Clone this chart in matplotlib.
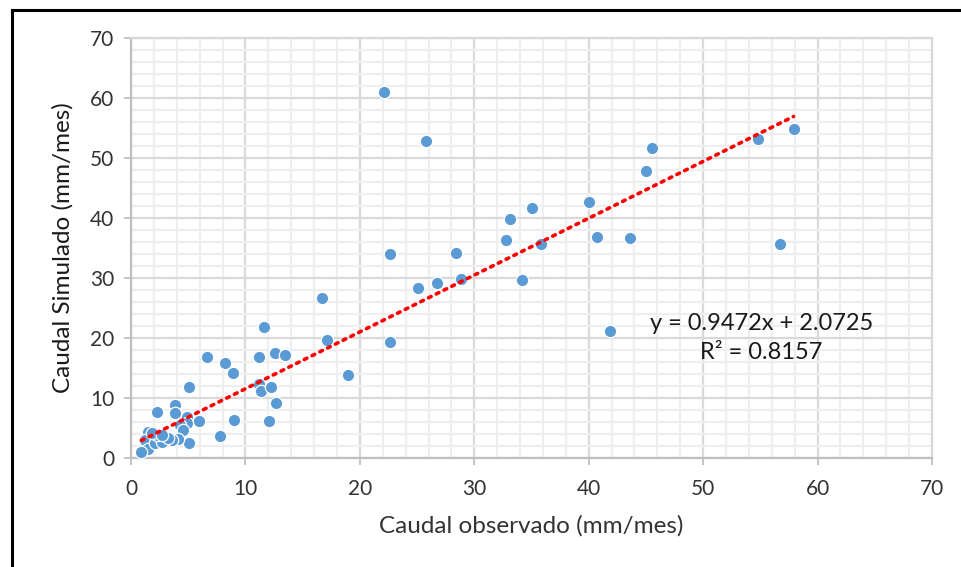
import matplotlib
matplotlib.use("Agg")
import matplotlib.pyplot as plt
from matplotlib.lines import Line2D
from matplotlib.ticker import MultipleLocator
import numpy as np

plt.rcParams['font.family'] = ['Lato', 'DejaVu Sans']

# Observed vs simulated monthly discharge (mm/mes)
observado = [22.1, 25.8, 22.6, 22.6, 16.7, 17.1, 19.0, 11.6, 11.2, 12.6,
             13.5, 11.2, 11.4, 12.2, 12.7, 12.1, 6.6, 8.2, 8.9, 5.1,
             9.0, 7.8, 25.1, 26.7, 28.8, 28.4, 32.8, 33.1, 35.0, 35.8,
             34.2, 40.0, 40.7, 43.6, 41.9, 45.0, 45.5, 54.8, 57.9, 56.7,
             2.3, 3.8, 3.8, 4.9, 4.9, 5.9, 4.3, 4.5, 5.1, 4.1,
             3.6, 3.0, 2.4, 1.9, 1.5, 1.2, 1.5, 0.9, 2.1, 2.7,
             3.2, 2.3, 1.8, 2.7]
simulado = [61.0, 52.8, 34.0, 19.3, 26.7, 19.6, 13.8, 21.9, 16.9, 17.5,
            17.1, 12.3, 11.2, 11.8, 9.1, 6.2, 16.9, 15.9, 14.2, 11.9,
            6.4, 3.7, 28.4, 29.2, 29.8, 34.1, 36.3, 39.9, 41.7, 35.6,
            29.6, 42.6, 36.8, 36.6, 21.2, 47.8, 51.6, 53.1, 54.9, 35.7,
            7.7, 8.8, 7.5, 6.8, 5.8, 6.2, 5.5, 4.7, 2.5, 3.2,
            3.0, 3.3, 3.5, 3.0, 4.3, 3.0, 1.5, 1.0, 2.5, 2.7,
            3.3, 3.8, 4.1, 3.8]

slope = 0.9472
intercept = 2.0725
r2 = 0.8157

fig = plt.figure(figsize=(9.62, 5.67), dpi=100)
ax = fig.add_axes([0.1362, 0.1922, 0.9688 - 0.1362, 0.933 - 0.1922])

ax.set_xlim(0, 70)
ax.set_ylim(0, 70)
ax.xaxis.set_major_locator(MultipleLocator(10))
ax.yaxis.set_major_locator(MultipleLocator(10))
ax.xaxis.set_minor_locator(MultipleLocator(2))
ax.yaxis.set_minor_locator(MultipleLocator(2))
ax.grid(which='major', color='#D9D9D9', linewidth=1.6, zorder=0)
ax.grid(which='minor', color='#EFEFEF', linewidth=1.6, zorder=0)
ax.set_axisbelow(True)
for s in ax.spines.values():
    s.set_color('#D9D9D9')
    s.set_linewidth(1.6)
ax.spines['left'].set_color('#BFBFBF')
ax.spines['bottom'].set_color('#BFBFBF')

ax.tick_params(which='major', length=5, color='#BFBFBF', width=1.3,
               labelsize=15, labelcolor='#333333')
ax.tick_params(axis='x', which='major', pad=10)
ax.tick_params(axis='y', which='major', pad=7)
ax.tick_params(which='minor', length=0)

ax.scatter(observado, simulado, s=80, color='#5B9BD5', edgecolor='white',
           linewidth=0.9, zorder=3)

xs = np.array([min(observado), max(observado)])
ax.plot(xs, slope * xs + intercept, color='#FF0000', linestyle=(0, (0.8, 1.6)),
        linewidth=2.6, dash_capstyle='round', zorder=4)

ax.text(55.1, 22.5, f"y = {slope}x + {intercept}", fontsize=17, ha='center',
        va='center', color='#1a1a1a', zorder=5)
ax.text(55.1, 17.6, f"R² = {r2}", fontsize=17, ha='center', va='center',
        color='#1a1a1a', zorder=5)

ax.set_xlabel("Caudal observado (mm/mes)", fontsize=17.5, color='#333333', labelpad=12)
ax.set_ylabel("Caudal Simulado (mm/mes)", fontsize=17.5, color='#1a1a1a', labelpad=12)

# outer black frame (top and left edges visible)
fig.add_artist(Line2D([11.5 / 962, 1.0], [1 - 9.5 / 567, 1 - 9.5 / 567],
                      transform=fig.transFigure, color='black', linewidth=2.2))
fig.add_artist(Line2D([11.5 / 962, 11.5 / 962], [0, 1 - 9.5 / 567],
                      transform=fig.transFigure, color='black', linewidth=2.2))

fig.savefig("out.png", dpi=100)
